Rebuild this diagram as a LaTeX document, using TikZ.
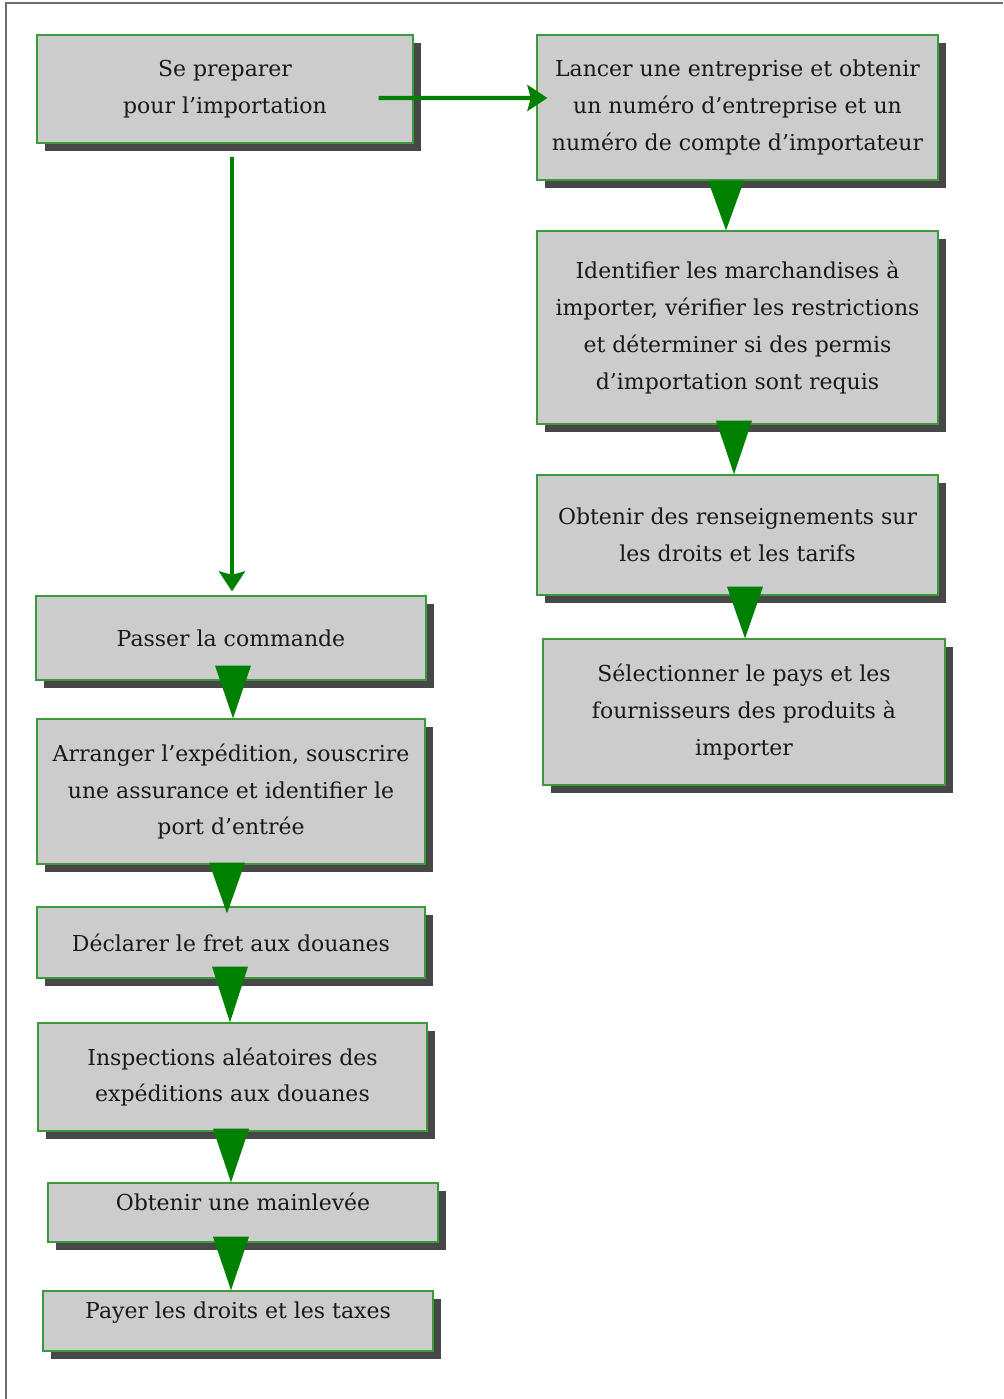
\documentclass[tikz,border=0pt]{standalone}
\usepackage{fontspec}
\setmainfont{DejaVu Serif}
\usetikzlibrary{arrows.meta,calc,shadows}

\definecolor{boxgray}{HTML}{CCCCCC}
\definecolor{boxline}{HTML}{3C9A3C}
\definecolor{flowgreen}{HTML}{008000}
\definecolor{shadowgray}{HTML}{474747}
\definecolor{framegray}{HTML}{6E6E6E}

\tikzset{
  stepbox/.style={draw=boxline, line width=0.7pt, fill=boxgray,
    drop shadow={shadow xshift=0.16cm, shadow yshift=-0.16cm, fill=shadowgray, opacity=1},
    align=center, inner sep=0pt, text=black!90,
    font=\fontsize{12.5}{21}\selectfont},
  flowline/.style={draw=flowgreen, line width=0.085cm,
    -{Stealth[length=0.40cm,width=0.52cm,inset=0.07cm]}},
  flowtri/.style={fill=flowgreen}
}

\begin{document}
\begin{tikzpicture}

  \useasboundingbox (0,0) rectangle (20.06,-27.98);

  % Frame
  \draw[framegray, line width=0.04cm] (20.06,-0.06) -- (0.12,-0.06) -- (0.12,-27.98);

  % Right column
  \node[stepbox, minimum width=7.52cm, minimum height=2.16cm] (prep) at (4.50,-1.78)
    {Se preparer\\pour l’importation};
  \node[stepbox, minimum width=8.02cm, minimum height=2.90cm] (lancer) at (14.75,-2.15)
    {Lancer une entreprise et obtenir\\un numéro d’entreprise et un\\numéro de compte d’importateur};
  \node[stepbox, minimum width=8.02cm, minimum height=3.86cm] (ident) at (14.75,-6.55)
    {Identifier les marchandises à\\importer, vérifier les restrictions\\et déterminer si des permis\\d’importation sont requis};
  \node[stepbox, minimum width=8.02cm, minimum height=2.40cm] (rens) at (14.75,-10.70)
    {Obtenir des renseignements sur\\les droits et les tarifs};
  \node[stepbox, minimum width=8.04cm, minimum height=2.92cm] (select) at (14.88,-14.24)
    {Sélectionner le pays et les\\fournisseurs des produits à\\importer};

  % Left column
  \node[stepbox, minimum width=7.80cm, minimum height=1.68cm] (passer) at (4.62,-12.76)
    {Passer la commande};
  \node[stepbox, minimum width=7.76cm, minimum height=2.90cm] (arranger) at (4.62,-15.83)
    {Arranger l’expédition, souscrire\\une assurance et identifier le\\port d’entrée};
  \node[stepbox, minimum width=7.76cm, minimum height=1.42cm] (declarer) at (4.62,-18.85)
    {Déclarer le fret aux douanes};
  \node[stepbox, minimum width=7.78cm, minimum height=2.16cm] (inspect) at (4.65,-21.54)
    {Inspections aléatoires des\\expéditions aux douanes};
  \node[stepbox, minimum width=7.80cm, minimum height=1.18cm] (mainlevee) at (4.86,-24.25)
    {Obtenir une mainlevée\\[-0.3cm]};
  \node[stepbox, minimum width=7.80cm, minimum height=1.20cm] (payer) at (4.76,-26.42)
    {Payer les droits et les taxes\\[-0.3cm]};

  % Arrows
  \draw[flowline] ($(prep.east)+(-0.70,-0.18)$) -- ($(lancer.west)+(0.22,0.19)$);
  \draw[flowline, shorten >=0.08cm] ($(prep.south)+(0.14,-0.26)$) -- ($(passer.north)+(0.02,0)$);

  % Triangles
  \fill[flowtri] ($(lancer.south)+(-0.59,0)$) -- ($(lancer.south)+(0.13,0)$)
    -- ($(ident.north)+(-0.23,0)$) -- cycle;
  \fill[flowtri] ($(ident.south)+(-0.43,0.08)$) -- ($(ident.south)+(0.29,0.08)$)
    -- ($(rens.north)+(-0.07,0)$) -- cycle;
  \fill[flowtri] ($(rens.south)+(-0.21,0.18)$) -- ($(rens.south)+(0.51,0.18)$)
    -- ($(select.north)+(0.02,0)$) -- cycle;
  \fill[flowtri] ($(passer.south)+(-0.32,0.30)$) -- ($(passer.south)+(0.40,0.30)$)
    -- ($(arranger.north)+(0.04,0)$) -- cycle;
  \fill[flowtri] ($(arranger.south)+(-0.44,0.04)$) -- ($(arranger.south)+(0.28,0.04)$)
    -- ($(declarer.north)+(-0.08,-0.14)$) -- cycle;
  \fill[flowtri] ($(declarer.south)+(-0.38,0.24)$) -- ($(declarer.south)+(0.34,0.24)$)
    -- ($(inspect.north)+(-0.05,0)$) -- cycle;
  \fill[flowtri] ($(inspect.south)+(-0.39,0.06)$) -- ($(inspect.south)+(0.33,0.06)$)
    -- ($(mainlevee.north)+(-0.24,0)$) -- cycle;
  \fill[flowtri] ($(mainlevee.south)+(-0.60,0.12)$) -- ($(mainlevee.south)+(0.12,0.12)$)
    -- ($(payer.north)+(-0.14,0)$) -- cycle;

\end{tikzpicture}
\end{document}
